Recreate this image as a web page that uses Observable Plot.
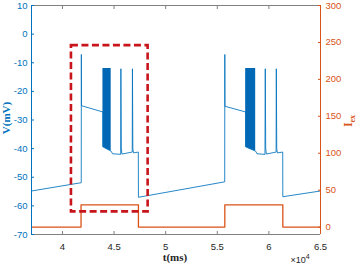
<!DOCTYPE html>
<html>
<head>
<meta charset="utf-8">
<script src="https://cdn.jsdelivr.net/npm/d3@7"></script>
<script src="https://cdn.jsdelivr.net/npm/@observablehq/plot@0.6"></script>
<style>
  html, body { margin: 0; padding: 0; background: #fff; }
  svg { display: block; }
</style>
</head>
<body>
<div id="chart"></div>
<script>
// Membrane potential trace V (mV) vs t (ms)
const vTime  = [37000, 41820, 41830, 41840, 43920, 43925,
                44720, 44850, 45640, 45660, 45700, 45760, 46760, 46780, 46820, 46880, 47350, 47360,
                55720, 55730, 55740, 57750, 57755,
                58720, 58850, 59620, 59650, 59690, 59750, 60700, 60720, 60760, 60820, 61340, 61350,
                65000];
const vValue = [-54.8, -51.9, -7.1, -25.0, -27.2, -39.4,
                -40.9, -41.8, -42.0, -12.1, -39.8, -41.9, -41.2, -12.1, -40.0, -41.5, -41.2, -57.0,
                -51.6, -7.1, -25.2, -27.2, -39.4,
                -40.9, -41.8, -42.0, -12.1, -39.8, -41.9, -41.2, -12.1, -40.0, -41.5, -41.2, -56.8,
                -54.8];

// Dense spike bursts (envelope)
const burstId     = [1, 1, 1, 2, 2, 2];
const burstTime   = [43920, 44300, 44720, 57750, 58200, 58720];
const burstTop    = [-12.0, -12.0, -12.0, -12.0, -12.0, -12.0];
const burstBottom = [-39.4, -40.2, -40.9, -39.4, -40.2, -40.9];

// External current I_ex
const iexTime  = [37000, 41800, 41800, 47360, 47360, 55730, 55730, 61350, 61350, 65000];
const iexValue = [0, 0, 30, 30, 0, 0, 30, 30, 0, 0];

// Highlight box (t in ms, V in mV)
const boxT = [40870, 48300];
const boxV = [-62.1, -4.0];

// Ticks
const xTicks = [40000, 45000, 50000, 55000, 60000, 65000];
const vTicks = [-70, -60, -50, -40, -30, -20, -10, 0, 10];
const iexTicks = [0, 50, 100, 150, 200, 250, 300];

// Axis limits
const tLim = [37000, 65000];
const vLim = [-70, 10];
const iexLim = [-10, 300];

const blue = "#0072BD";
const orange = "#D95319";
const gray = "#262626";

// Map I_ex onto V-axis coordinates (right axis)
const toV = i => vLim[0] + (i - iexLim[0]) * (vLim[1] - vLim[0]) / (iexLim[1] - iexLim[0]);
const fromV = v => iexLim[0] + (v - vLim[0]) * (iexLim[1] - iexLim[0]) / (vLim[1] - vLim[0]);

const vData = vTime.map((t, i) => ({t, v: vValue[i]}));
const burstData = burstTime.map((t, i) => ({id: burstId[i], t, top: burstTop[i], bottom: burstBottom[i]}));
const iexData = iexTime.map((t, i) => ({t, v: toV(iexValue[i])}));
const boxData = [{x1: boxT[0], x2: boxT[1], y1: boxV[0], y2: boxV[1]}];

const fontAxis = "Liberation Sans, Arial, sans-serif";

const chart = Plot.plot({
  width: 361,
  height: 267,
  marginLeft: 31,
  marginRight: 41,
  marginTop: 5,
  marginBottom: 33,
  style: {fontFamily: fontAxis, fontSize: "9.5px", background: "#fff"},
  x: {domain: tLim},
  y: {domain: vLim},
  marks: [
    // box lines
    Plot.ruleY([vLim[1]], {stroke: "#808080", strokeWidth: 1}),
    Plot.ruleY([vLim[0]], {stroke: "#808080", strokeWidth: 1}),
    // current
    Plot.line(iexData, {x: "t", y: "v", stroke: orange, strokeWidth: 1.3}),
    // bursts
    Plot.areaY(burstData, {x: "t", y1: "bottom", y2: "top", z: "id", fill: "#0068B5", curve: "linear"}),
    // voltage
    Plot.line(vData, {x: "t", y: "v", stroke: blue, strokeWidth: 1, strokeOpacity: 0.85}),
    // highlight box
    Plot.rect(boxData, {x1: "x1", x2: "x2", y1: "y1", y2: "y2", fill: "none",
      stroke: "#C8151B", strokeWidth: 2.6, strokeDasharray: "7,3.5"}),
    // axes
    Plot.axisX(xTicks, {anchor: "bottom", tickSize: -3, tickPadding: 12, tickFormat: d => String(d / 1e4),
      color: gray, stroke: "#808080", label: null}),
    Plot.axisX(xTicks, {anchor: "top", tickSize: -3, tickFormat: () => "", stroke: "#808080", label: null}),
    Plot.axisY(vTicks, {anchor: "left", tickSize: -3, tickPadding: 7, tickFormat: d => String(d),
      color: blue, label: null}),
    Plot.axisY(iexTicks.map(toV), {anchor: "right", tickSize: -3, tickPadding: 8,
      tickFormat: v => String(Math.round(fromV(v))), color: orange, label: null}),
    Plot.ruleX([tLim[0]], {stroke: blue, strokeWidth: 1}),
    Plot.ruleX([tLim[1]], {stroke: orange, strokeWidth: 1})
  ]
});

document.getElementById("chart").appendChild(chart);

const svg = d3.select(chart);
const labelFont = "Liberation Serif, Times New Roman, serif";
// x label
svg.append("text")
  .attr("x", 175).attr("y", 261)
  .attr("text-anchor", "middle")
  .attr("font-family", labelFont).attr("font-weight", "bold").attr("font-size", 11)
  .attr("fill", gray)
  .text("t(ms)");
// exponent
const ex = svg.append("text")
  .attr("x", 300).attr("y", 263)
  .attr("font-family", fontAxis).attr("font-size", 9).attr("fill", gray);
ex.append("tspan").text("×10");
ex.append("tspan").attr("dy", -4).attr("font-size", 7).text("4");
// left y label
svg.append("text")
  .attr("transform", "translate(10,118) rotate(-90)")
  .attr("text-anchor", "middle")
  .attr("font-family", labelFont).attr("font-weight", "bold").attr("font-size", 11)
  .attr("fill", blue)
  .text("V(mV)");
// right y label
const il = svg.append("text")
  .attr("transform", "translate(352,121) rotate(-90)")
  .attr("text-anchor", "middle")
  .attr("font-family", labelFont).attr("font-weight", "bold").attr("font-size", 12)
  .attr("fill", orange);
il.append("tspan").text("I");
il.append("tspan").attr("dy", 3).attr("font-size", 8).text("ex");
</script>
</body>
</html>
